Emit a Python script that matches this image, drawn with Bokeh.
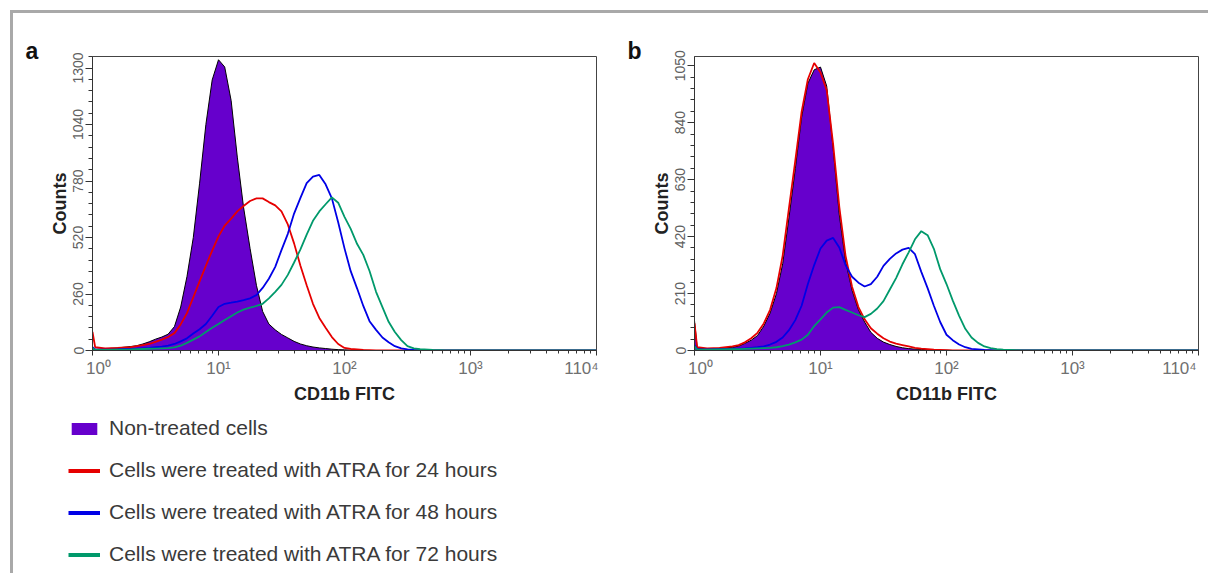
from bokeh.plotting import figure
from bokeh.models import FixedTicker, Legend, LegendItem, Range1d
from bokeh.layouts import row, column
from bokeh.embed import file_html
from bokeh.resources import INLINE

FONT = "Liberation Sans"
PURPLE = "#6600cc"
RED = "#e60000"
BLUE = "#0000e6"
GREEN = "#00996b"
NAN = float("nan")

# CD11b FITC intensity (bin positions, log axis)
fitc = [1.0, 1.05, 1.26, 1.58, 2.0, 2.24, 2.51, 2.82, 3.16, 3.55,
        3.98, 4.47, 5.01, 5.62, 6.31, 7.08, 7.94, 8.91, 10.0, 11.2,
        12.6, 14.1, 15.8, 17.8, 20.0, 22.4, 25.1, 28.2, 31.6, 35.5,
        39.8, 44.7, 50.1, 56.2, 63.1, 70.8, 79.4, 89.1, 100, 112,
        126, 141, 158, 178, 200, 224, 251, 282, 316, 355,
        398, 501, 631, 1000, 3162, 10000]

# Panel a counts
a_untreated = [5, 5, 8, 12, 18, 22, 30, 40, 52, 62,
               75, 110, 200, 340, 520, 770, 1040, 1245, 1338, 1305,
               1150, 890, 660, 470, 300, 180, 122, 95, 74, 58,
               42, 30, 22, 16, 12, 9, 6, 4, 3, 2,
               1, 1, 0, 0, 0, 0, 0, 0, 0, 0,
               0, 0, 0, 0, 0, 0]
a_24h = [85, 15, 10, 12, 16, 20, 25, 30, 40, 50,
         62, 80, 120, 172, 245, 318, 390, 460, 525, 575,
         607, 640, 665, 688, 700, 700, 683, 668, 640, 580,
         493, 390, 300, 215, 150, 105, 62, 30, 12, 7,
         5, 3, 2, 1, 0, 0, 0, 0, 0, 0,
         0, 0, 0, 0, 0, 0]
a_48h = [15, 5, 4, 5, 7, 8, 10, 12, 15, 18,
         22, 30, 42, 56, 78, 98, 122, 160, 200, 215,
         220, 225, 232, 240, 255, 288, 330, 385, 462, 537,
         630, 702, 770, 800, 808, 765, 700, 590, 470, 365,
         285, 205, 135, 95, 60, 38, 20, 10, 5, 3,
         2, 1, 0, 0, 0, 0]
a_72h = [10, 3, 3, 4, 5, 6, 7, 8, 9, 10,
         11, 14, 22, 35, 50, 65, 85, 105, 122, 140,
         158, 175, 188, 197, 205, 215, 240, 270, 302, 348,
         405, 465, 533, 597, 640, 673, 705, 680, 615, 560,
         490, 440, 366, 270, 200, 132, 85, 48, 20, 10,
         6, 3, 1, 0, 0, 0]

# Panel b counts
b_untreated = [110, 10, 6, 8, 12, 16, 26, 38, 55, 90,
               138, 210, 320, 490, 670, 860, 985, 1035, 1045, 975,
               745, 500, 330, 222, 150, 105, 67, 45, 31, 22,
               15, 10, 7, 5, 4, 3, 2, 1, 1, 0,
               0, 0, 0, 0, 0, 0, 0, 0, 0, 0,
               0, 0, 0, 0, 0, 0]
b_24h = [100, 12, 8, 10, 15, 20, 30, 45, 65, 100,
         150, 230, 350, 525, 700, 880, 1000, 1060, 1025, 960,
         760, 530, 350, 235, 160, 115, 82, 62, 45, 33,
         25, 20, 15, 10, 7, 5, 3, 2, 1, 0,
         0, 0, 0, 0, 0, 0, 0, 0, 0, 0,
         0, 0, 0, 0, 0, 0]
b_48h = [20, 5, 4, 5, 6, 7, 8, 10, 12, 15,
         22, 32, 48, 75, 112, 165, 245, 315, 376, 405,
         415, 380, 315, 272, 250, 236, 245, 272, 312, 338,
         358, 372, 378, 355, 290, 230, 165, 105, 58, 38,
         22, 12, 6, 4, 2, 1, 0, 0, 0, 0,
         0, 0, 0, 0, 0, 0]
b_72h = [15, 3, 3, 4, 5, 5, 6, 7, 8, 9,
         10, 12, 16, 22, 30, 40, 58, 90, 115, 140,
         158, 160, 150, 140, 130, 123, 135, 155, 182, 225,
         267, 318, 362, 410, 440, 425, 375, 300, 245, 185,
         128, 80, 48, 28, 15, 9, 5, 3, 2, 1,
         0, 0, 0, 0, 0, 0]

x_ticks = [1, 10, 100, 1000, 10000]
x_tick_labels = ["\u2002\u200910\u2070", "10\u00b9", "10\u00b2", "10\u00b3",
                 "110\u2074\u2002\u2009"]
x_minor = [m * d for d in [1, 10, 100, 1000] for m in range(2, 10)]

a_yticks = [0, 260, 520, 780, 1040, 1300]
b_yticks = [0, 210, 420, 630, 840, 1050]

legend_labels = ["Non-treated cells",
                 "Cells were treated with ATRA for 24 hours",
                 "Cells were treated with ATRA for 48 hours",
                 "Cells were treated with ATRA for 72 hours"]


def make_panel(letter, ymax, yticks, untreated, h24, h48, h72, left, right):
    ystep = yticks[1] / 5
    yminor = [i * ystep for i in range(int(ymax / ystep) + 1)]
    p = figure(x_axis_type="log", x_range=Range1d(1, 10000), y_range=Range1d(0, ymax),
               frame_width=504, frame_height=294,
               min_border_left=left, min_border_top=56,
               min_border_right=right, min_border_bottom=58,
               output_backend="svg", toolbar_location=None, title=letter)
    p.border_fill_color = None
    p.background_fill_color = "white"
    p.outline_line_color = "#444444"
    p.outline_line_width = 1
    p.grid.visible = False

    p.title.align = "left"
    p.title.offset = -67
    p.title.standoff = -14
    p.title.text_font = FONT
    p.title.text_font_size = "23px"
    p.title.text_font_style = "bold"
    p.title.text_color = "#111111"

    xa = p.xaxis[0]
    xa.ticker = FixedTicker(ticks=x_ticks, minor_ticks=x_minor)
    xa.major_label_overrides = dict(zip(x_ticks, x_tick_labels))
    xa.major_label_text_font = FONT
    xa.major_label_text_font_size = "17px"
    xa.major_label_text_color = "#707070"
    xa.major_tick_out = 5
    xa.major_tick_in = 0
    xa.minor_tick_out = 3
    xa.minor_tick_in = 0
    xa.major_label_standoff = 3
    xa.axis_line_color = "#333333"
    xa.major_tick_line_color = "#333333"
    xa.minor_tick_line_color = "#333333"
    xa.axis_label = "CD11b FITC"
    xa.axis_label_text_font = FONT
    xa.axis_label_text_font_size = "18px"
    xa.axis_label_text_font_style = "bold"
    xa.axis_label_text_color = "#222222"
    xa.axis_label_standoff = 3

    ya = p.yaxis[0]
    ya.ticker = FixedTicker(ticks=yticks, minor_ticks=yminor)
    ya.major_label_orientation = "vertical"
    ya.major_label_text_font = FONT
    ya.major_label_text_font_size = "14px"
    ya.major_label_text_color = "#606060"
    ya.major_tick_out = 7
    ya.major_tick_in = 0
    ya.minor_tick_out = 4
    ya.minor_tick_in = 0
    ya.major_label_standoff = 2
    ya.axis_line_color = "#333333"
    ya.major_tick_line_color = "#333333"
    ya.minor_tick_line_color = "#333333"
    ya.axis_label = "Counts"
    ya.axis_label_text_font = FONT
    ya.axis_label_text_font_size = "18px"
    ya.axis_label_text_font_style = "bold"
    ya.axis_label_text_color = "#222222"
    ya.axis_label_standoff = 1

    p.varea(x=fitc, y1=[0] * len(fitc), y2=untreated, fill_color=PURPLE, fill_alpha=1)
    p.line(fitc, untreated, line_color="black", line_width=1)
    p.line(fitc, h24, line_color=RED, line_width=1.8)
    p.line(fitc, h48, line_color=BLUE, line_width=1.8)
    p.line(fitc, h72, line_color=GREEN, line_width=1.8)
    return p


pa = make_panel("a", 1353, a_yticks, a_untreated, a_24h, a_48h, a_72h, 92, 14)
pb = make_panel("b", 1084, b_yticks, b_untreated, b_24h, b_48h, b_72h, 84, 10)

# Legend below panel a (proxy renderers with a single empty point carry only the styles)
leg = figure(width=610, height=165, x_range=Range1d(0, 1), y_range=Range1d(0, 1),
             min_border=0, x_axis_location=None, y_axis_location=None,
             output_backend="svg", toolbar_location=None)
leg.grid.visible = False
leg.outline_line_color = None
leg.border_fill_color = None
leg.background_fill_color = None
sw_area = leg.varea(x=[NAN], y1=[NAN], y2=[NAN], fill_color=PURPLE, fill_alpha=1)
sw_lines = [leg.line(x=[NAN], y=[NAN], line_color=c, line_width=4) for c in (RED, BLUE, GREEN)]
items = [LegendItem(label=legend_labels[0], renderers=[sw_area])]
items += [LegendItem(label=lab, renderers=[r]) for lab, r in zip(legend_labels[1:], sw_lines)]
legend = Legend(items=items, location=(68, 7), orientation="vertical",
                margin=0, padding=0, spacing=18,
                glyph_width=32, glyph_height=15, label_standoff=9,
                label_text_font=FONT, label_text_font_size="21px",
                label_text_color="#3a3a3a",
                border_line_color=None, background_fill_alpha=0)
leg.add_layout(legend, "center")

layout = column(row(pa, pb), leg, styles={
    "background": "linear-gradient(#a9a9a9,#a9a9a9) 10px 10px / 100% 3px no-repeat, "
                  "linear-gradient(#a9a9a9,#a9a9a9) 10px 10px / 3px 100% no-repeat"})

open("out.html", "w").write(file_html(layout, INLINE))
